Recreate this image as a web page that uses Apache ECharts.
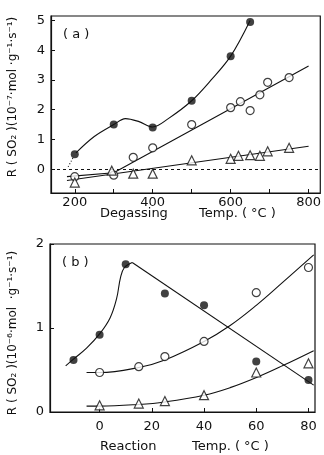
<!DOCTYPE html>
<html>
<head>
<meta charset="utf-8">
<script src="https://cdn.jsdelivr.net/npm/echarts@6/dist/echarts.min.js"></script>
<style>
  html, body { margin: 0; padding: 0; background: #fff; }
  #chart { width: 324px; height: 455px; }
</style>
</head>
<body>
<div id="chart"></div>
<script>
// ---- panel (a): degassing temperature ----
const aSolidX = [200, 300, 400, 500, 600, 650];
const aSolidY = [0.5, 1.5, 1.4, 2.3, 3.8, 4.95];
const aOpenX = [200, 300, 350, 400, 500, 600, 625, 650, 675, 695, 750];
const aOpenY = [-0.25, -0.2, 0.4, 0.72, 1.5, 2.07, 2.27, 1.97, 2.5, 2.92, 3.08];
const aTriX = [200, 295, 350, 400, 500, 600, 620, 650, 675, 695, 750];
const aTriY = [-0.45, -0.05, -0.15, -0.15, 0.3, 0.35, 0.45, 0.47, 0.45, 0.6, 0.72];

// hand drawn fit curves
const aSolidFitX = [203, 250, 300, 330, 365, 400, 440, 500, 550, 600, 650];
const aSolidFitY = [0.55, 1.1, 1.5, 1.7, 1.6, 1.42, 1.7, 2.3, 3.0, 3.8, 5.0];
const aSolidTailX = [183, 197];
const aSolidTailY = [0.08, 0.42];
const aOpenFitX = [180, 300, 800];
const aOpenFitY = [-0.25, -0.12, 3.47];
const aTriFitX = [180, 800];
const aTriFitY = [-0.38, 0.77];

const aYTicks = [0, 1, 2, 3, 4, 5];
const aXTicks = [200, 300, 400, 500, 600, 700, 800];
const aXLabels = [200, 400, 600, 800];

// ---- panel (b): reaction temperature ----
const bSolidX = [-10, 0, 10, 25, 40, 60, 80];
const bSolidY = [0.62, 0.92, 1.76, 1.41, 1.27, 0.6, 0.38];
const bOpenX = [0, 15, 25, 40, 60, 80];
const bOpenY = [0.47, 0.54, 0.66, 0.84, 1.42, 1.72];
const bTriX = [0, 15, 25, 40, 60, 80];
const bTriY = [0.08, 0.1, 0.13, 0.2, 0.47, 0.58];

const bSolidRiseX = [-13, -10, -5, 0, 4, 6.5, 8, 9.5, 12.5];
const bSolidRiseY = [0.55, 0.63, 0.76, 0.93, 1.12, 1.35, 1.6, 1.72, 1.78];
const bSolidFallX = [12.5, 82];
const bSolidFallY = [1.78, 0.32];
const bOpenFitX = [-5, 0, 15, 25, 40, 50, 60, 70, 82];
const bOpenFitY = [0.47, 0.47, 0.53, 0.62, 0.84, 1.03, 1.27, 1.54, 1.87];
const bTriFitX = [-5, 0, 15, 25, 40, 50, 60, 70, 82];
const bTriFitY = [0.07, 0.07, 0.09, 0.12, 0.2, 0.29, 0.41, 0.55, 0.73];

const bYTicks = [0, 1, 2];
const bXTicks = [0, 20, 40, 60, 80];

const zip = (xs, ys) => xs.map((x, i) => [x, ys[i]]);

const INK = "#111";
const FONT = "DejaVu Sans";

const chart = echarts.init(document.getElementById("chart"));

const xAxisBase = (idx, min, max, ticks, labels, margin) => ({
  type: "value",
  gridIndex: idx,
  min: min,
  max: max,
  axisLine: { show: true, onZero: false, lineStyle: { color: INK, width: 1.2 } },
  axisTick: { show: true, inside: true, length: 4, customValues: ticks, lineStyle: { color: INK } },
  axisLabel: { customValues: labels, color: INK, fontSize: 13, fontFamily: FONT, margin: margin },
  splitLine: { show: false },
});

const yAxisBase = (idx, min, max, ticks) => ({
  type: "value",
  gridIndex: idx,
  min: min,
  max: max,
  axisLine: { show: true, onZero: false, lineStyle: { color: INK, width: 1.2 } },
  axisTick: { show: true, inside: true, length: 4, customValues: ticks, lineStyle: { color: INK } },
  axisLabel: { customValues: ticks, color: INK, fontSize: 13, fontFamily: FONT, margin: 6 },
  splitLine: { show: false },
});

const curve = (axis, data, smooth, type) => ({
  type: "line",
  xAxisIndex: axis,
  yAxisIndex: axis,
  data: data,
  smooth: smooth,
  showSymbol: false,
  silent: true,
  lineStyle: { color: INK, width: 1.1, type: type || "solid" },
});

const points = (axis, data, kind) => ({
  type: "scatter",
  xAxisIndex: axis,
  yAxisIndex: axis,
  data: data,
  symbol: kind === "tri" ? "triangle" : "circle",
  symbolSize: kind === "tri" ? 9 : 8,
  z: 5,
  itemStyle: kind === "solid"
    ? { color: INK }
    : { color: "#fff", borderColor: INK, borderWidth: 1.2 },
});

const label = (text, x, y, size, rotate) => ({
  type: "text",
  x: x,
  y: y,
  rotation: rotate ? Math.PI / 2 : 0,
  style: {
    text: text,
    font: size + "px " + FONT,
    fill: INK,
    textAlign: rotate ? "center" : "left",
    textVerticalAlign: "middle",
  },
});

const option = {
  backgroundColor: "#fff",
  animation: false,
  grid: [
    { left: 51, right: 0, top: 16, bottom: 262, show: true, borderColor: INK, borderWidth: 1.2 },
    { left: 50, right: 9, top: 244, bottom: 43, show: true, borderColor: INK, borderWidth: 1.2 },
  ],
  xAxis: [
    xAxisBase(0, 139, 830, aXTicks, aXLabels, 3),
    xAxisBase(1, -19, 82.5, bXTicks, bXTicks, 8),
  ],
  yAxis: [
    yAxisBase(0, -0.8, 5.15, aYTicks),
    yAxisBase(1, 0, 2, bYTicks),
  ],
  graphic: [
    label("R ( SO\u2082 )(10\u207B\u2077\u00B7mol \u00B7g\u207B\u00B9\u00B7s\u207B\u00B9)", 13, 97, 12, true),
    label("R ( SO\u2082 )(10\u207B\u2076\u00B7mol  \u00B7g\u207B\u00B9\u00B7s\u207B\u00B9)", 13, 333, 12, true),
    label("Degassing", 100, 214, 13),
    label("Temp. ( \u00B0C )", 199, 214, 13),
    label("Reaction", 100, 447, 13),
    label("Temp. ( \u00B0C )", 192, 447, 13),
    label("( a )", 63, 35, 13),
    label("( b )", 62, 263, 13),
  ],
  series: [
    // panel (a)
    Object.assign(curve(0, zip(aSolidFitX, aSolidFitY), 0.35), {
      markLine: {
        silent: true,
        symbol: "none",
        label: { show: false },
        lineStyle: { color: INK, type: [3, 3], width: 1 },
        data: [{ yAxis: 0 }],
      },
    }),
    curve(0, zip(aSolidTailX, aSolidTailY), false, [1, 2]),
    curve(0, zip(aOpenFitX, aOpenFitY), false),
    curve(0, zip(aTriFitX, aTriFitY), false),
    points(0, zip(aSolidX, aSolidY), "solid"),
    points(0, zip(aOpenX, aOpenY), "open"),
    points(0, zip(aTriX, aTriY), "tri"),
    // panel (b)
    curve(1, zip(bSolidRiseX, bSolidRiseY), 0.4),
    curve(1, zip(bSolidFallX, bSolidFallY), false),
    curve(1, zip(bOpenFitX, bOpenFitY), 0.4),
    curve(1, zip(bTriFitX, bTriFitY), 0.4),
    points(1, zip(bSolidX, bSolidY), "solid"),
    points(1, zip(bOpenX, bOpenY), "open"),
    points(1, zip(bTriX, bTriY), "tri"),
  ],
};

chart.setOption(option);
</script>
</body>
</html>
